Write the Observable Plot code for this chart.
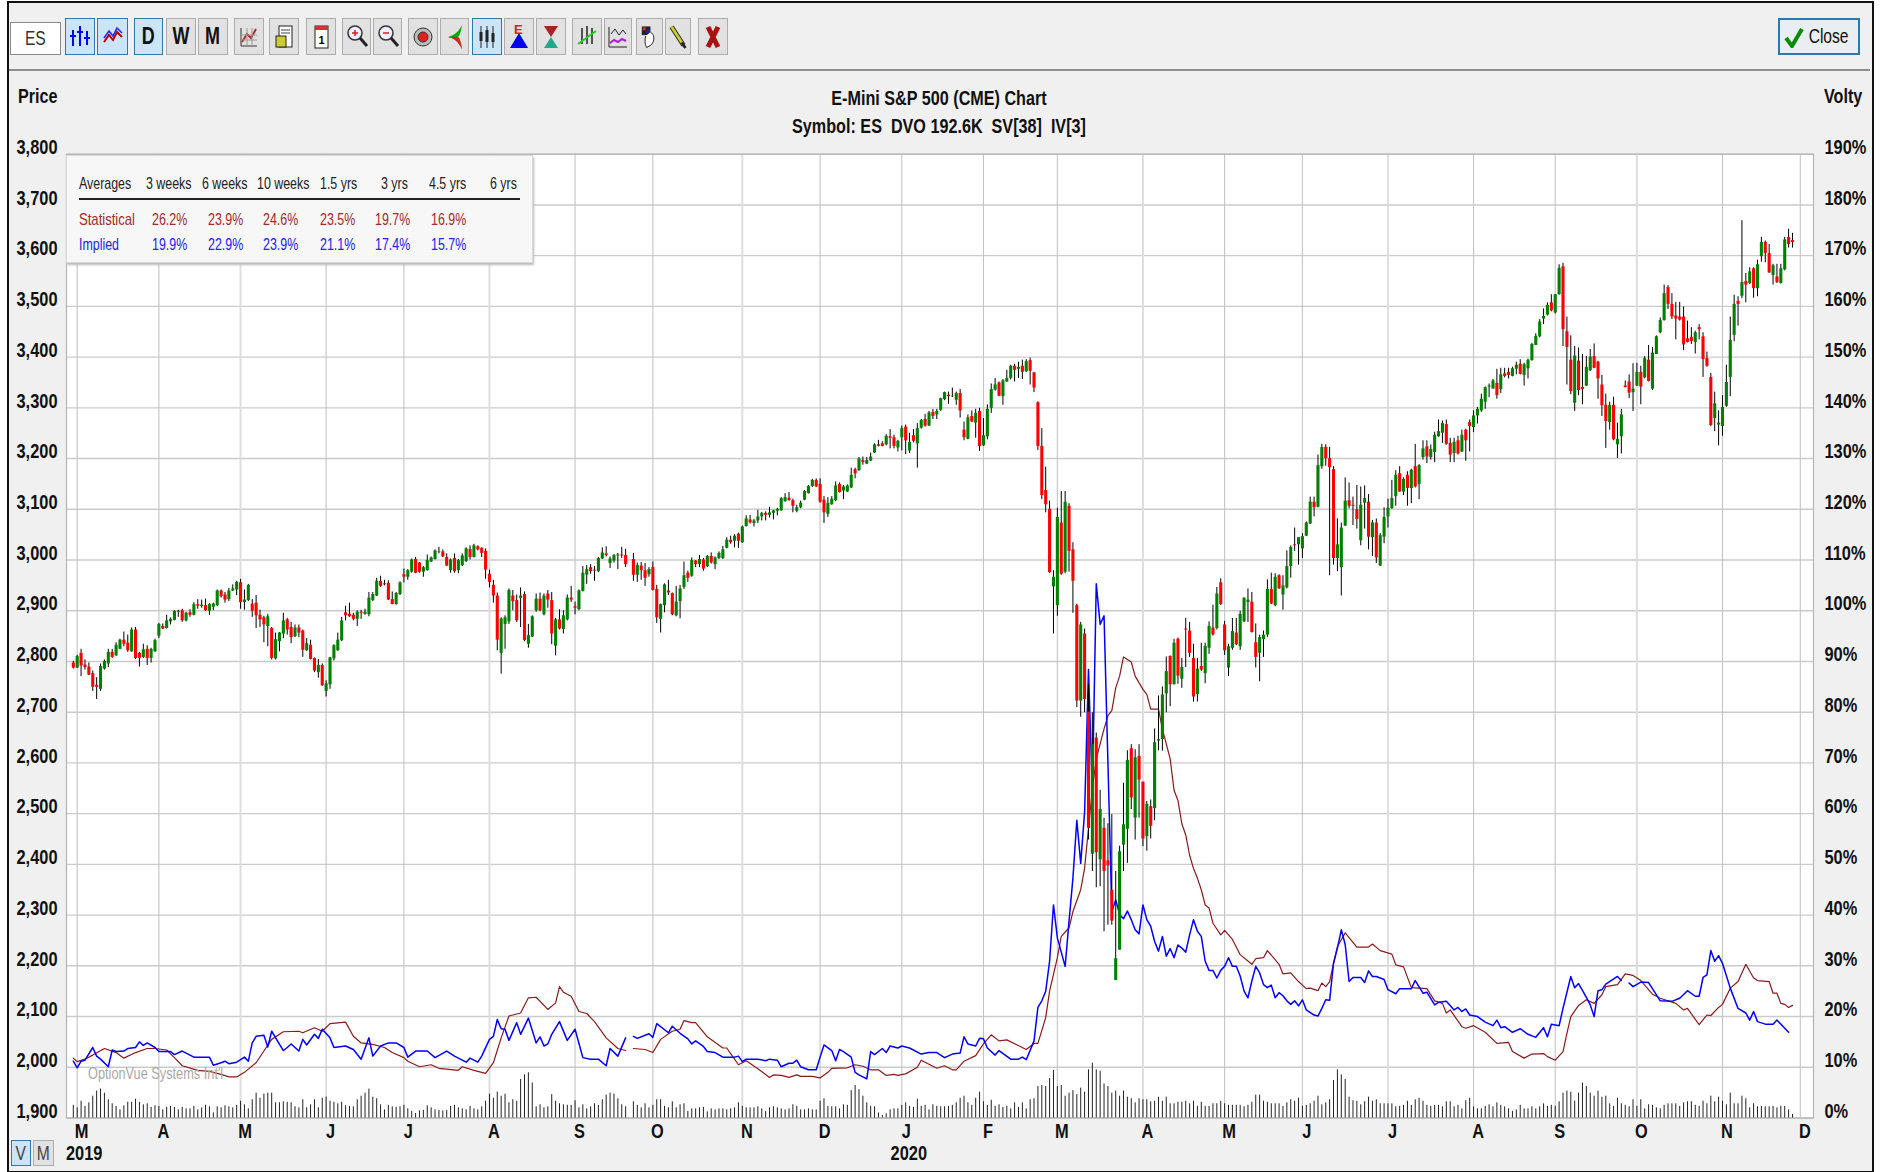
<!DOCTYPE html>
<html>
<head>
<meta charset="utf-8">
<script src="https://cdn.jsdelivr.net/npm/d3@7"></script>
<script src="https://cdn.jsdelivr.net/npm/@observablehq/plot@0.6"></script>
<style>
html,body{margin:0;padding:0;background:#fff}
#page{position:relative;width:1898px;height:1172px;overflow:hidden;background:#fff;font-family:"Liberation Sans",sans-serif}
#panel{position:absolute;left:7px;top:1px;width:1863px;height:1168px;background:#f0f0f0;border:2px solid #111}
#tbline{position:absolute;left:9px;top:69px;width:1861px;height:2px;background:#8e8e8e}
#chart{position:absolute;left:0;top:0}
.abs{position:absolute;white-space:nowrap;line-height:1;transform-origin:left center}
.btn{position:absolute;box-sizing:border-box;top:18px;height:37px;background:#e1e1e1;border:1px solid #adadad;display:flex;align-items:center;justify-content:center;font:bold 23px "Liberation Sans",sans-serif;color:#111}
.btn.sel{background:#cce4f7;border:1px solid #2a7ab0}
.sq{display:inline-block;transform:scaleX(.78)}
</style>
</head>
<body>
<div id="page">
<div id="panel"></div>
<div id="tbline"></div>
</div>
<script>
// ---- price candles (index = trading day, 0 = 28 Feb 2019) ----
const opens=[2797,2787,2816,2793,2789,2776,2753,2745,2785,2795,
2818,2811,2824,2842,2836,2819,2862,2816,2808,2824,
2806,2819,2850,2869,2865,2878,2881,2897,2900,2880,
2896,2891,2912,2908,2910,2899,2907,2910,2939,2931,
2922,2939,2941,2955,2916,2920,2913,2915,2891,2886,
2869,2865,2805,2839,2854,2882,2867,2849,2866,2860,
2821,2832,2806,2778,2792,2741,2754,2805,2821,2841,
2896,2893,2891,2883,2897,2893,2892,2920,2929,2958,
2953,2954,2922,2912,2932,2971,2966,2976,3001,2994,
2976,2979,2996,3001,3015,3016,3005,2979,3003,2979,
2989,2997,3021,3005,3026,3023,3017,2972,2950,2929,
2816,2873,2878,2929,2920,2924,2932,2834,2848,2900,
2923,2892,2933,2920,2830,2882,2863,2882,2925,2908,
2902,2938,2970,2985,2980,2977,3002,3012,2993,2998,
3008,3010,3009,null,3001,2970,2988,2979,2971,2985,
2942,2883,2910,2939,2934,2890,2918,2946,2974,2968,
2998,2991,3000,2987,3007,2991,3003,3003,3023,3039,
3037,3051,3034,3066,3079,3072,3077,3085,3092,3088,
3092,3096,3097,3115,3122,3117,3096,3103,3118,3131,
3145,3157,3149,3118,3090,3109,3117,3149,3136,3134,
3142,3178,3176,3196,3189,3195,3211,3227,3229,3227,
3243,3241,3221,3241,3262,3215,3245,3229,3260,3277,
3264,3291,3286,3295,3316,3325,3323,3315,3328,3256,
3238,3283,3270,3293,3225,3243,3299,3335,3349,3322,
3351,3358,3382,3376,3382,3371,3393,3369,3310,3224,
3137,3100,2947,2910,3073,2976,3106,3020,
2910,2722,2854,2700,2420,2649,2409,2471,2407,2349,
2171,2231,2438,2469,2628,2491,2613,2562,2455,2514,
2510,2643,2646,2736,2810,2754,2844,2765,2864,2860,
2806,2735,2790,2776,2826,2866,2865,2955,2872,2787,
2826,2856,2829,2878,2916,2917,2837,2816,2843,2852,
2942,2910,2969,2931,2945,2987,3030,3030,3022,3047,
3071,3114,3104,3184,3222,3200,3178,3003,2985,3067,
3117,3108,3099,3038,3112,3114,3044,3073,2988,3045,
3085,3101,3125,3170,3134,3167,3141,3184,3149,3202,
3223,3202,3212,3243,3250,3267,3230,3210,3235,3213,
3256,3271,3261,3284,3294,3311,3341,3337,3348,3336,
3367,3370,3362,3376,3386,3364,3377,3393,3423,3440,
3475,3483,3507,3487,3523,3578,3450,3394,3309,3392,
3340,3343,3373,3401,3390,3345,3305,3271,3305,3227,
3243,3343,3351,3330,3343,3370,3359,3394,3337,3405,
3448,3472,3537,3504,3481,3479,3479,3436,3439,3429,
3458,3440,3397,3360,3279,3266,3263,3303,3360,3443,
3510,3520,3549,3545,3574,3535,3598,3626,3604,3561,
3558,3545,3572,3636,3630];
const closes=[2787,2810,2791,2788,2773,2749,2749,2790,2800,2818,
2808,2832,2842,2834,2821,2862,2806,2806,2823,2806,
2824,2841,2873,2864,2880,2883,2899,2899,2880,2895,
2891,2912,2909,2911,2900,2912,2913,2939,2928,2921,
2939,2943,2956,2916,2921,2950,2899,2890,2882,2872,
2888,2806,2843,2856,2880,2862,2847,2866,2856,2822,
2835,2804,2781,2792,2752,2756,2807,2831,2842,2880,
2890,2888,2883,2897,2895,2897,2925,2932,2958,2948,
2951,2921,2912,2934,2955,2966,2979,3000,2974,2976,
2985,2999,3004,3018,3016,3006,2988,3000,2977,2999,
3008,3022,3005,3028,3020,3013,2980,2956,2929,2842,
2884,2886,2940,2918,2880,2929,2841,2851,2888,2923,
2900,2929,2921,2854,2882,2864,2890,2925,2921,2905,
2939,2974,2981,2977,2978,3003,3014,3009,3002,3009,
3010,3008,2991,null,2970,2989,2979,2964,2981,2940,
2886,2912,2951,2935,2892,2917,2943,2969,2964,2999,
2991,3001,2982,3007,2994,3004,3013,3020,3039,3034,
3047,3037,3065,3081,3073,3077,3085,3092,3088,3093,
3097,3100,3121,3123,3117,3106,3103,3112,3135,3145,
3157,3144,3114,3093,3112,3120,3146,3133,3144,3146,
3167,3170,3199,3192,3196,3203,3227,3224,3224,3244,
3240,3224,3234,3259,3235,3232,3234,3259,3275,3264,
3290,3283,3293,3318,3330,3322,3322,3328,3294,3241,
3280,3272,3289,3224,3245,3297,3336,3345,3323,3353,
3358,3382,3374,3380,3370,3391,3372,3339,3224,3127,
3109,2975,2966,3084,2972,3114,3017,2958,
2722,2872,2725,2471,2636,2423,2508,2386,2397,2288,
2214,2425,2478,2605,2531,2610,2566,2450,2518,2475,
2640,2646,2734,2780,2754,2836,2771,2788,2862,2816,
2730,2785,2783,2830,2869,2852,2933,2912,2821,2829,
2859,2833,2893,2925,2921,2857,2808,2847,2852,2942,
2913,2966,2943,2949,2987,3025,3028,3044,3046,3073,
3114,3103,3186,3222,3200,3182,3003,3030,3063,3116,
3106,3106,3080,3108,3121,3045,3073,3004,3048,3084,
3102,3121,3167,3134,3159,3141,3177,3144,3186,3219,
3203,3218,3246,3253,3269,3228,3207,3232,3209,3246,
3235,3263,3284,3297,3317,3340,3343,3353,3324,3365,
3362,3364,3377,3384,3366,3385,3394,3425,3441,3469,
3480,3502,3491,3523,3575,3454,3419,3332,3402,3334,
3336,3380,3400,3378,3357,3304,3273,3305,3237,3238,
3286,3340,3329,3337,3370,3341,3397,3352,3408,3440,
3472,3525,3504,3479,3475,3473,3424,3429,3431,3448,
3454,3395,3382,3265,3308,3270,3301,3350,3433,3504,
3504,3547,3542,3568,3535,3582,3626,3604,3566,3580,
3547,3574,3631,3622,3626];
const highs=[2800,2812,2824,2803,2797,2781,2768,2795,2803,2824,
2824,2837,2844,2858,2852,2866,2867,2818,2834,2831,
2826,2844,2875,2874,2891,2886,2900,2901,2903,2897,
2902,2916,2922,2921,2923,2914,2915,2941,2941,2936,
2944,2951,2958,2962,2941,2952,2922,2930,2901,2889,
2893,2867,2856,2857,2895,2885,2877,2872,2872,2862,
2845,2842,2807,2804,2795,2762,2808,2833,2856,2887,
2909,2915,2895,2900,2901,2903,2936,2936,2964,2968,
2960,2959,2937,2936,2957,2982,2981,3002,3005,2995,
2987,3010,3006,3020,3025,3020,3012,3002,3012,3001,
3012,3024,3028,3031,3028,3024,3022,2980,2960,2935,
2886,2890,2943,2940,2931,2945,2937,2873,2890,2933,
2935,2933,2940,2936,2885,2902,2900,2931,2948,2917,
2941,2987,2989,2991,2987,3005,3024,3026,3006,3011,
3013,3025,3021,null,3013,2994,2995,2993,2985,2996,
2950,2913,2953,2960,2935,2948,2950,2996,2978,3004,
2999,3009,3003,3009,3014,3006,3016,3027,3044,3047,
3050,3053,3067,3087,3088,3080,3098,3094,3095,3104,
3098,3102,3123,3131,3133,3120,3108,3116,3137,3147,
3159,3160,3160,3125,3123,3125,3154,3152,3147,3148,
3181,3181,3202,3203,3202,3211,3229,3236,3233,3247,
3257,3246,3236,3264,3266,3250,3257,3269,3277,3287,
3293,3297,3297,3319,3331,3331,3339,3331,3336,3272,
3286,3294,3297,3299,3279,3306,3347,3358,3351,3356,
3374,3384,3386,3390,3394,3395,3398,3370,3312,3259,
3183,3116,2979,3102,3135,3135,3111,3034,
2913,2877,2864,2755,2699,2659,2546,2491,2480,2498,
2386,2436,2560,2624,2636,2626,2636,2562,2524,2527,
2667,2732,2750,2809,2811,2844,2846,2806,2885,2877,
2834,2806,2836,2836,2878,2911,2946,2963,2879,2834,
2885,2885,2899,2925,2943,2936,2874,2852,2860,2961,
2974,2973,2971,2969,3018,3028,3063,3044,3052,3075,
3124,3124,3207,3228,3227,3222,3184,3081,3073,3162,
3152,3124,3147,3144,3146,3129,3078,3081,3052,3103,
3120,3157,3176,3184,3162,3174,3179,3228,3188,3235,
3235,3227,3252,3276,3274,3276,3240,3240,3244,3256,
3258,3276,3294,3301,3327,3341,3347,3356,3376,3378,
3378,3378,3380,3390,3395,3388,3396,3427,3446,3474,
3495,3507,3523,3523,3582,3585,3479,3442,3421,3418,
3405,3401,3415,3426,3392,3364,3327,3311,3321,3270,
3297,3353,3365,3387,3388,3382,3401,3423,3419,3442,
3477,3542,3541,3525,3508,3508,3499,3471,3458,3451,
3464,3448,3410,3368,3331,3294,3324,3384,3479,3522,
3519,3669,3565,3576,3576,3591,3636,3629,3622,3583,
3583,3583,3636,3652,3644];
const lows=[2785,2786,2770,2783,2772,2741,2725,2741,2783,2788,
2806,2810,2823,2829,2818,2818,2804,2789,2806,2792,
2797,2818,2845,2863,2864,2872,2880,2887,2877,2878,
2887,2890,2903,2905,2899,2891,2900,2908,2925,2915,
2918,2938,2930,2903,2901,2918,2887,2865,2867,2837,
2829,2803,2803,2819,2845,2852,2835,2847,2847,2808,
2820,2803,2778,2767,2751,2730,2745,2801,2820,2839,
2880,2887,2880,2869,2883,2891,2888,2918,2928,2946,
2949,2920,2912,2911,2930,2955,2960,2974,2973,2974,
2966,2978,2995,3000,3012,3005,2987,2974,2974,2973,
2987,2995,3000,3004,3018,3005,2962,2945,2915,2821,
2775,2824,2873,2900,2877,2867,2839,2826,2847,2897,
2898,2890,2905,2833,2811,2862,2854,2880,2916,2892,
2900,2937,2952,2972,2958,2975,3001,3006,2983,2994,
2981,3003,2985,null,2958,2956,2960,2948,2966,2939,
2875,2856,2896,2930,2890,2888,2884,2942,2956,2966,
2985,2985,2978,2985,2992,2981,3001,3001,3022,3031,
3024,3023,3033,3065,3071,3065,3072,3077,3077,3083,
3079,3087,3096,3114,3116,3093,3093,3101,3117,3130,
3143,3143,3112,3072,3084,3108,3115,3132,3119,3133,
3141,3160,3175,3187,3188,3194,3210,3223,3223,3225,
3219,3219,3213,3215,3208,3210,3231,3181,3258,3262,
3263,3277,3277,3293,3314,3307,3320,3305,3280,3235,
3237,3271,3240,3214,3224,3237,3289,3333,3322,3305,
3350,3355,3351,3358,3356,3370,3345,3330,3216,3119,
3093,2974,2854,2889,2970,2973,2976,2895,
2709,2690,2699,2448,2386,2354,2356,2267,2280,2280,
2171,2231,2386,2402,2508,2448,2491,2435,2426,2450,
2486,2624,2623,2699,2711,2754,2755,2747,2788,2808,
2720,2720,2780,2756,2814,2850,2862,2910,2812,2770,
2822,2831,2822,2877,2877,2856,2787,2760,2808,2847,
2912,2908,2942,2901,2943,2964,3017,2990,3003,3046,
3070,3085,3103,3179,3185,2969,2990,2977,2929,3066,
3101,3068,3061,3028,3061,3020,3007,2993,2987,3032,
3063,3100,3106,3134,3127,3106,3111,3142,3119,3197,
3190,3197,3192,3242,3230,3226,3192,3192,3207,3212,
3195,3213,3251,3268,3291,3297,3320,3337,3317,3328,
3359,3357,3361,3365,3365,3343,3357,3392,3423,3438,
3464,3481,3489,3485,3522,3421,3345,3326,3293,3324,
3306,3342,3372,3377,3317,3283,3220,3256,3235,3200,
3209,3339,3318,3293,3342,3306,3357,3351,3334,3405,
3446,3471,3494,3474,3434,3471,3413,3428,3425,3406,
3434,3360,3380,3263,3253,3225,3244,3301,3322,3430,
3461,3515,3507,3543,3516,3519,3587,3586,3565,3542,
3545,3544,3570,3615,3615];
// ---- relative contract volume per trading day ----
const volume=[25,20,33,23,30,43,53,57,49,36,
28,23,16,24,31,31,37,31,26,28,
21,24,23,16,21,23,21,16,21,18,
18,23,16,20,25,22,10,22,20,24,
22,20,25,33,26,18,36,49,39,47,
49,49,30,30,32,31,30,22,20,36,
20,26,36,20,39,41,33,31,28,31,
24,23,22,36,43,49,57,41,38,26,
16,25,22,21,22,25,18,13,9,14,
15,24,20,16,15,14,15,23,25,20,
18,16,23,18,16,22,33,47,39,51,
43,47,30,36,33,76,85,89,69,22,
26,20,22,46,33,28,26,25,25,34,
20,26,18,22,28,25,36,45,49,47,
38,26,22,0,32,25,20,28,20,25,
36,36,23,20,32,20,26,28,13,18,
18,20,21,12,18,16,18,18,16,18,
20,30,23,20,20,20,22,18,13,20,
22,20,18,16,18,26,23,16,16,18,
16,16,33,38,23,22,22,18,26,25,
54,64,56,43,30,23,22,10,5,8,
16,18,18,25,30,23,21,37,23,25,
16,26,23,22,22,23,25,30,39,43,
30,25,39,51,32,25,35,23,26,21,
23,18,30,21,30,18,36,38,62,64,
62,78,94,62,64,43,49,
54,46,59,51,95,108,95,92,67,62,
49,53,43,53,41,38,30,38,36,36,
32,33,41,33,41,28,28,31,31,33,
28,33,23,31,23,23,28,28,33,28,
25,25,25,25,22,25,31,45,45,33,
31,28,28,28,
23,30,36,33,39,23,25,28,33,43,
26,30,36,74,95,85,76,41,34,33,
26,32,41,33,36,28,28,28,28,22,
23,25,33,25,36,39,33,25,23,25,
25,22,32,32,22,25,18,34,39,22,
18,18,23,26,22,30,25,22,18,13,
16,25,18,18,22,18,22,28,23,25,
23,32,49,53,51,33,49,69,62,49,
43,53,41,43,28,23,39,28,25,22,
36,23,36,18,26,25,20,18,25,28,
28,28,23,30,32,32,25,23,33,28,
43,32,41,33,26,49,28,28,43,38,
20,28,22,23,22,22,23,20,23,23,16,7];
// ---- implied volatility [trading day, percent] as read ----
const impliedVol=[[0,11.2],[1,9.9],[2,11.2],[3,11.4],[5,13.9],[6,12.2],[7,11.6],[9,10.1],[10,13.4],[11,13.1],[13,13.2],[14,13.7],[16,13.9],[17,15],[18,14.3],[19,14.8],[21,13.9],[22,13.1],[25,13.1],[26,12.5],[28,13.2],[30,12.4],[31,12],[35,12],[36,10.4],[38,10.9],[39,11.2],[40,10.7],[42,11],[44,12],[45,11.2],[46,14.8],[47,16.1],[49,16.3],[50,14],[51,17.1],[54,13.3],[55,13.9],[56,14.6],[58,13.2],[59,15.5],[60,14.4],[62,16.5],[63,15.7],[64,17.5],[66,15.8],[67,13.9],[69,14.1],[70,14.2],[72,13.5],[74,11.6],[76,15.8],[77,12.2],[79,14.2],[81,14.8],[83,14.8],[85,13.9],[86,12],[88,13.2],[91,13.2],[93,11.9],[96,13.2],[98,12.2],[101,11],[102,11.8],[104,11],[105,12.2],[107,15.5],[108,16.1],[109,19.4],[110,17.6],[111,17.5],[112,15.3],[114,18.8],[115,16.5],[117,19.7],[119,14.8],[120,16],[121,14.2],[122,14.6],[123,16.5],[125,19],[127,15.3],[129,17.5],[131,11.9],[133,11.6],[135,11.6],[137,10.3],[138,13.7],[140,12.2],[142,15.8],[143,null],[144,16.1],[145,15.7],[148,16.6],[149,15.9],[150,18.6],[153,16.8],[154,18.1],
[156,16.7],[158,15.6],[159,14.6],[160,15.2],[162,14.1],[163,13.1],[165,12.9],[167,12],[170,12],[171,12.2],[172,11.1],[173,11.6],[176,11.6],[178,11.3],[179,11.6],[181,11.4],[182,10.1],[184,10.8],[185,10.8],[186,11.4],[187,10.1],[189,9.5],[191,9.5],[192,12],[193,14.4],[195,13.3],[196,11.3],[197,13.5],[198,13.1],[200,12],[201,9],[202,8.5],[204,7.7],[205,13.1],[206,12.5],[208,13.7],[209,12.9],[210,14.2],[212,13.8],[213,14.2],[215,13.8],[218,12.6],[220,12.9],[222,12.9],[224,11.9],[226,12.6],[228,12.8],[229,16],[230,14.6],[232,14.2],[233,15.7],[234,15.6],[235,13.8],[237,12.4],[238,13.3],[241,11.6],[243,11.6],[244,12],[245,11.5],
[247,15.2],[248,21.8],[249,23.1],[250,25],[251,30.9],[252,42],[253,35.5],[255,29.9],[256,38.8],[257,47.3],[258,58.7],[259,50.2],[260,60.3],[261,88.4],[262,64.2],[263,105.3],[264,97.3],[265,99],[266,70.1],[267,40.7],[268,43],[269,40.1],[270,39.3],[271,40.8],[272,39.1],[273,37.1],[274,36.3],[275,42],[276,39.1],[277,37.8],[278,34.8],[279,32.9],[280,35.8],[281,31.9],[282,33.4],[283,31.6],[284,34.1],[285,33.5],[286,32.7],[287,36.1],[288,39.1],[289,36.8],[290,35.8],[291,30.9],[292,29.1],[293,29.1],[294,27.6],[295,29.1],[296,29.9],[297,31.6],[298,29.9],[299,29.9],[300,28],[301,25],[302,23.7],[303,27],[304,29.9],[305,28.6],[306,26.3],[307,25.7],[308,26.2],[309,23.7],[310,24.7],[311,24.1],[312,23.1],[313,22.4],[314,23.1],[315,22.1],
[316,23.3],[317,21.3],[319,20.3],[320,20.1],[321,21.6],[322,23.3],[323,23.2],[324,30.5],[325,33.5],[326,37.1],[327,34.2],[328,26.9],[329,27.7],[331,27.7],[332,26.7],[333,29],[334,27.9],[335,27.9],[337,27.3],[338,25.3],[340,24.5],[341,25.5],[344,25.5],[345,27.1],[347,24.6],[348,24.8],[350,22.3],[351,22.8],[353,23],[355,21.3],[356,21.8],[357,21],[358,21.5],[359,20.3],[361,20],[363,18.9],[365,18.2],[366,19.3],[367,17.8],[368,18],[370,16.9],[372,17.6],[374,16.5],[376,15.9],[378,17.8],[379,16],[380,18.5],[382,18.2],[383,21.6],[385,27.9],[386,25.7],[387,26.5],[389,23.8],[390,22.3],[391,20],[392,25.1],[393,25.3],[394,26.4],[397,27.9],[398,27.1],[399,null],[400,26.6],[401,25.9],[403,26.8],[405,26.7],[408,23.1],[411,23],[413,23.6],[415,25.1],[417,24],[418,24],[419,27.7],[420,28.2],[421,33],[422,30.9],[423,32],[424,30.5],[426,25.6],[428,21.6],[430,20.7],[431,19.3],[432,21],[433,19],[435,18.5],[437,18.5],[438,19.3],[440,17.7],[441,16.9]];
// ---- statistical volatility [trading day, percent] as read ----
const statVol=[[0,11.8],[1,11.1],[3,11.6],[5,12.4],[8,13.7],[11,12.9],[13,11.8],[16,12.9],[19,13.7],[21,13.7],[24,13.4],[26,11.9],[28,10.3],[32,9.4],[35,9.2],[38,8.6],[40,8.1],[42,8.1],[44,9],[47,10.9],[49,13.2],[51,15.5],[54,17],[58,17.1],[59,16.8],[62,17.8],[64,17.1],[66,18.6],[70,18.9],[72,16.1],[74,14.8],[77,14.5],[80,13.9],[82,12.9],[85,11.9],[86,11.2],[89,10.1],[92,10.5],[94,9.8],[99,9.4],[100,10.1],[103,9.4],[106,8.8],[108,10.9],[110,15.8],[112,20.1],[115,20.7],[117,23.7],[119,23.8],[122,21.4],[124,22.7],[125,25.9],[126,24.8],[128,24],[130,21],[132,20.6],[134,19],[137,15.8],[140,13.7],[142,13.3],[143,null],[144,13.7],[147,13.5],[149,12.9],[151,15.5],[154,17.1],
[156,17.5],[157,19.2],[159,18.8],[160,18.8],[163,16],[167,13.8],[168,13.8],[170,11.6],[171,10.5],[173,11.3],[176,9.7],[179,8],[180,8.5],[182,8.4],[184,8],[186,8.5],[187,8.2],[190,8.2],[192,7.9],[194,9],[195,9.8],[199,9.9],[201,10.5],[203,10.2],[205,9.5],[207,9.5],[209,8.4],[211,8.6],[212,8.4],[214,8.7],[217,10],[218,11.4],[222,9.8],[224,10.3],[226,9.5],[227,9.5],[229,11.2],[232,12.3],[234,14.6],[236,16.4],[238,15.2],[240,15.4],[245,13.5],[247,14.7],[248,14.7],
[250,19.8],[251,25],[253,31.6],[254,35.8],[256,37.5],[257,40.7],[259,45],[260,49.2],[261,57.1],[262,64.9],[263,70.8],[265,76.7],[266,79.3],[267,80.3],[268,84.8],[269,87.1],[270,90.9],[272,89.9],[273,87.1],[275,84.5],[276,83.5],[277,80.6],[279,80.6],[280,76.7],[282,70.8],[283,64.6],[284,62.6],[285,58],[286,55.8],[287,51.8],[288,49.2],[289,47.3],[290,45],[291,42],[292,41.4],[293,38.4],[295,36.1],[296,37],[298,35.2],[300,32.2],[303,30.3],[304,31.4],[306,31.6],[307,33],[310,30.3],
[311,28.4],[313,28.6],[315,26.9],[317,25.5],[318,25.6],[320,25.1],[321,26.6],[322,25.9],[323,26.9],[324,30.5],[325,33.8],[327,36.5],[330,33.7],[333,33.7],[334,34.3],[336,33],[339,32.3],[340,30.2],[342,29.8],[344,25.7],[348,25.5],[350,23.1],[352,22.6],[353,20.7],[354,21.3],[357,18],[358,17.7],[360,18.2],[363,16.9],[366,14.7],[369,14.9],[370,13.1],[373,11.8],[375,12.6],[378,12.7],[379,12.1],[381,11.4],[383,13.1],[384,16.7],[385,20],[387,22.2],[389,23.3],[391,22.6],[393,24.3],[394,25.9],[397,26.3],[399,28.4],[401,28.1],[403,27.1],[406,24.4],[408,23.6],[412,22.6],[414,21.3],[415,21.6],[418,18.4],[420,20.3],[421,20.2],[423,21.8],[424,22.4],[426,25.6],[428,26.9],[430,30.3],[432,27.6],[433,27.1],[436,26.9],[437,24.6],[438,24.6],[439,22.6],[440,22.4],[441,21.8],[442,22.2]];
// ---- axis labels ----
const monthDays=[1,22,43,65,85,107,129,149,172,192,213,234,253,275,296,316,338,360,381,402,424,444];
const monthLabels=["M","A","M","J","J","A","S","O","N","D","J","F","M","A","M","J","J","A","S","O","N","D"];
const softMonthDays=[43,107,172,275,338,402];
const yearDays=[1,213];
const yearLabels=["2019","2020"];
const priceTicks=d3.range(1900,3801,100);
const pctOffset=1900, pctScale=10;
// ---- averages box ----
const avgHeaders=["3 weeks","6 weeks","10 weeks","1.5 yrs","3 yrs","4.5 yrs","6 yrs"];
const statAverages=["26.2%","23.9%","24.6%","23.5%","19.7%","16.9%"];
const impliedAverages=["19.9%","22.9%","23.9%","21.1%","17.4%","15.7%"];
const titleLine="E-Mini S&P 500 (CME) Chart";
const subtitleLine="Symbol: ES  DVO 192.6K  SV[38]  IV[3]";

const FONT='"Liberation Sans",sans-serif';
const bars=opens.map((o,i)=>({i,o,c:closes[i],h:highs[i],l:lows[i],v:volume[i]})).filter(d=>d.o!=null);
const toPrice=p=>p==null?NaN:pctOffset+p*pctScale;
const volY=v=>pctOffset+v;

const chart=Plot.plot({
  width:1898,height:1172,marginLeft:66,marginRight:85,marginTop:153.7,marginBottom:54.5,
  style:{background:"transparent",fontFamily:FONT},
  x:{type:"linear",domain:[-1.75,447.4],axis:null},
  y:{domain:[1900,3800],axis:null},
  marks:[
    Plot.frame({fill:"#fff",stroke:"none"}),
    Plot.ruleY(priceTicks,{stroke:"#cbcbcb",strokeWidth:1.4}),
    Plot.ruleX(monthDays.filter(d=>!softMonthDays.includes(d)),{stroke:"#c4c4c4",strokeWidth:1.1}),
    Plot.ruleX(softMonthDays,{stroke:"#dedede",strokeWidth:2}),
    Plot.frame({stroke:"#b4b4b4",strokeWidth:1.2}),
    Plot.ruleX(bars,{x:"i",y1:pctOffset,y2:d=>volY(d.v),stroke:"#222",strokeWidth:1}),
    Plot.line(statVol,{x:d=>d[0],y:d=>toPrice(d[1]),stroke:"#8b1a1a",strokeWidth:1.2,curve:"linear"}),
    Plot.line(impliedVol,{x:d=>d[0],y:d=>toPrice(d[1]),stroke:"#0000ff",strokeWidth:1.5,curve:"linear"}),
    Plot.ruleX(bars,{x:"i",y1:"l",y2:"h",stroke:"#000",strokeWidth:1}),
    Plot.ruleX(bars,{x:"i",y1:"o",y2:"c",stroke:d=>d.c>=d.o?"#008000":"#ff0000",strokeWidth:3.1,strokeLinecap:"butt"}),
    Plot.axisY({anchor:"left",ticks:priceTicks,tickFormat:d3.format(","),tickSize:0,tickPadding:9,dy:-7,fontSize:21,fontWeight:"bold",fill:"#111",label:null}),
    Plot.axisY({anchor:"right",ticks:priceTicks,tickFormat:d=>((d-pctOffset)/pctScale)+"%",tickSize:0,tickPadding:11,dy:-7,fontSize:21,fontWeight:"bold",fill:"#111",label:null,textAnchor:"start"}),
    Plot.text(monthDays,{x:d=>d,text:(d,i)=>monthLabels[i],frameAnchor:"bottom",lineAnchor:"middle",dy:13,dx:4.5,fontSize:21,fontWeight:"bold",fill:"#111"}),
    Plot.text(yearDays,{x:d=>d,text:(d,i)=>yearLabels[i],frameAnchor:"bottom",lineAnchor:"middle",dy:35.5,dx:7,fontSize:21,fontWeight:"bold",fill:"#111"})
  ]
});
chart.id="chart";
const page=document.getElementById("page");
page.appendChild(chart);
// the reference type is condensed: squeeze every chart label to that width
chart.querySelectorAll("text").forEach(t=>{
  const len=t.getComputedTextLength();
  if(len>0){t.setAttribute("textLength",(len*0.78).toFixed(1));t.setAttribute("lengthAdjust","spacingAndGlyphs");}
});

function put(text,left,top,css,squeeze,centered){
  const el=document.createElement("div");el.className="abs";el.textContent=text;
  el.style.cssText+=`left:${left}px;top:${top}px;`+(css||"");
  if(centered){el.style.transformOrigin="center center";el.style.transform=`translateX(-50%) scaleX(${squeeze})`;}
  else el.style.transform=`scaleX(${squeeze})`;
  page.appendChild(el);return el;
}
const boldCss="font-weight:bold;font-size:21px;color:#111;white-space:pre;";
put("Price",18,85,boldCss,0.77);
put("Volty",1824,85,boldCss,0.77);
put(titleLine,939,87,boldCss,0.77,true);
put(subtitleLine,939,115,boldCss,0.77,true);
put("OptionVue Systems Int'l",88,1065,"font-size:17px;color:#a9a9a9;",0.75);

// averages box
const box=document.createElement("div");
box.style.cssText="position:absolute;left:66px;top:155px;width:465px;height:106px;background:#f7f7f7;border:1px solid #d8d8d8;box-shadow:1px 2px 2px #bbb;";
page.appendChild(box);
const hdrX=[146,202,257,320,381,429,490];
const valX=[152,208,263,320,375,431];
const small="font-size:17px;";
const sq=0.73;
put("Averages",79,174.5,small+"color:#222;",sq);
avgHeaders.forEach((h,i)=>put(h,hdrX[i],174.5,small+"color:#222;",sq));
const ln=document.createElement("div");ln.style.cssText="position:absolute;left:79px;top:198px;width:441px;height:2px;background:#222;";page.appendChild(ln);
put("Statistical",79,211,small+"color:#a52a2a;",0.77);
statAverages.forEach((v,i)=>put(v,valX[i],211,small+"color:#a52a2a;",sq));
put("Implied",79,235.5,small+"color:#2222ee;",sq);
impliedAverages.forEach((v,i)=>put(v,valX[i],235.5,small+"color:#2222ee;",sq));

// toolbar
const ic=s=>`<svg width="26" height="30" viewBox="0 0 26 30">${s}</svg>`;
const tools=[
 [65,30,1,ic('<path d="M6 8v16M13 4v20M20 9v14" stroke="#00f" stroke-width="2"/><path d="M3 14h6M10 10h6M17 16h6" stroke="#00f" stroke-width="2"/>')],
 [97,31,1,ic('<path d="M4 20l5-7 4 5 4-8 5 5" stroke="#b00" fill="none" stroke-width="2"/><path d="M4 16l5-7 4 5 4-8 5 5" stroke="#22f" fill="none" stroke-width="1.5"/>')],
 [134,29,1,'<span class="sq">D</span>'],[166,30,0,'<span class="sq">W</span>'],[198,30,0,'<span class="sq">M</span>'],
 [234,30,0,ic('<path d="M5 6v18h16" stroke="#333" fill="none"/><path d="M6 20l5-8 4 4 5-9" stroke="#b22" fill="none" stroke-width="2"/><path d="M5 13h16M5 18h16M11 6v18M16 6v18" stroke="#999"/>')],
 [269,30,0,ic('<rect x="8" y="4" width="13" height="21" fill="#fff" stroke="#222"/><rect x="5" y="14" width="10" height="11" fill="#cc3" stroke="#222"/><path d="M10 8h9M10 11h9" stroke="#444"/>')],
 [306,30,0,ic('<rect x="7" y="4" width="13" height="22" fill="#fff" stroke="#222"/><rect x="7" y="4" width="13" height="4" fill="#c33"/><text x="13.5" y="22" font-size="11" text-anchor="middle" font-family="Liberation Sans">1</text>')],
 [342,29,0,ic('<circle cx="11" cy="11" r="7" fill="#eef" stroke="#333" stroke-width="1.5"/><path d="M16 16l7 8" stroke="#222" stroke-width="3"/><path d="M8 11h6M11 8v6" stroke="#c22" stroke-width="1.5"/>')],
 [373,29,0,ic('<circle cx="11" cy="11" r="7" fill="#eef" stroke="#333" stroke-width="1.5"/><path d="M16 16l7 8" stroke="#222" stroke-width="3"/><path d="M8 11h6" stroke="#c22" stroke-width="1.5"/>')],
 [408,30,0,ic('<circle cx="13" cy="15" r="9" fill="#bbb" stroke="#333"/><circle cx="13" cy="15" r="5" fill="#d22" stroke="#333"/>')],
 [440,29,0,ic('<path d="M20 3C16 11 12 13 6 15c6 1 10 4 14 12-1-7-2-10-4-12 2-2 3-6 4-12z" fill="#0a0"/><path d="M6 15c6 1 10 4 14 12-1-7-2-10-4-12z" fill="#d22"/>')],
 [472,30,1,ic('<path d="M7 4v22M13 4v22M19 4v22" stroke="#222"/><rect x="5.5" y="10" width="3" height="9" fill="#222"/><rect x="11.5" y="8" width="3" height="12" fill="#222"/><rect x="17.5" y="11" width="3" height="9" fill="#222"/>')],
 [504,30,0,ic('<path d="M13 11l9 15H4z" fill="#00e"/><text x="8" y="12" font-size="13" font-weight="bold" fill="#d22" font-family="Liberation Sans">E</text>')],
 [536,30,0,ic('<path d="M6 4h14l-7 11z" fill="#a22"/><path d="M13 15l7 11H6z" fill="#2a8"/>')],
 [572,30,0,ic('<path d="M8 6v16M13 4v18M18 6v16" stroke="#222" stroke-width="1.5"/><path d="M4 22L22 9" stroke="#2c2" stroke-width="2"/>')],
 [604,28,0,ic('<path d="M4 5v20h18" stroke="#222" fill="none"/><path d="M6 12l4-5 4 6 4-5 3 4" stroke="#222" fill="none"/><path d="M5 21l4-3 4 2 4-3 4 2" stroke="#a2c" fill="none" stroke-width="2"/>')],
 [636,27,0,ic('<rect x="5" y="4" width="9" height="9" fill="#222"/><rect x="6" y="5" width="3" height="3" fill="#e22"/><rect x="10" y="8" width="3" height="3" fill="#22e"/><path d="M14 10c4 2 5 8 1 13l-5 3c-2-4-2-8-1-12" fill="#fff" stroke="#222"/>')],
 [665,26,0,ic('<path d="M6 4l13 20" stroke="#222" stroke-width="5"/><path d="M6 4l13 20" stroke="#cc3" stroke-width="3"/><path d="M17 21l4 6" stroke="#222" stroke-width="3"/>')],
 [698,30,0,ic('<path d="M8 5l10 20M18 5L8 25" stroke="#a11" stroke-width="5"/>')]
];
tools.forEach(([x,w,sel,content])=>{
  const b=document.createElement("div");b.className="btn"+(sel?" sel":"");
  b.style.left=x+"px";b.style.width=w+"px";b.innerHTML=content;page.appendChild(b);
});
const es=document.createElement("div");
es.style.cssText='position:absolute;left:10px;top:22px;width:51px;height:33px;box-sizing:border-box;background:#fff;border:1px solid #888;display:flex;align-items:center;justify-content:center;font-size:20px;color:#333;';
es.innerHTML='<span class="sq">ES</span>';page.appendChild(es);
const close=document.createElement("div");
close.className="btn sel";close.style.cssText+="left:1778px;width:82px;top:18px;height:37px;font-weight:normal;font-size:20px;background:#e8eef2;border:2px solid #2a7ab0;";
close.innerHTML='<svg width="20" height="22" viewBox="0 0 20 22"><path d="M2 12l6 8L18 3" stroke="#0a8a0a" stroke-width="4" fill="none"/></svg><span class="sq" style="margin-left:-1px">Close</span>';
page.appendChild(close);
// V / M toggles
[[11,20,1,"V"],[33,21,0,"M"]].forEach(([x,w,sel,t])=>{
  const b=document.createElement("div");b.className="btn"+(sel?" sel":"");
  b.style.cssText+=`left:${x}px;width:${w}px;top:1140px;height:26px;font-weight:normal;font-size:20px;color:#444;`;
  b.innerHTML=`<span class="sq">${t}</span>`;page.appendChild(b);
});
</script>
</body>
</html>
